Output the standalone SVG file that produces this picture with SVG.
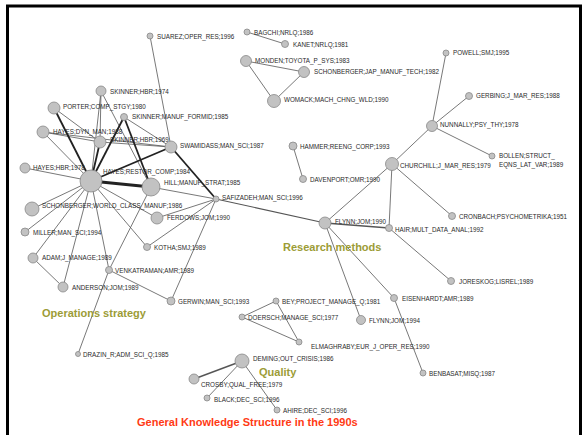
<svg xmlns="http://www.w3.org/2000/svg" width="587" height="435" viewBox="0 0 587 435">
<style>
.n{fill:#c2c2c2;stroke:#888;stroke-width:0.8}
.t{font-family:"Liberation Sans",Arial,sans-serif;font-size:6.3px;fill:#2a2a2a}
.e{stroke:#555;stroke-width:0.8;fill:none}
.k{stroke:#222;stroke-width:1.8;fill:none}
.kk{stroke:#222;stroke-width:3;fill:none}
.g{font-family:"Liberation Sans",Arial,sans-serif;font-size:11px;font-weight:bold;fill:#9c9c36}
.r{font-family:"Liberation Sans",Arial,sans-serif;font-size:11px;font-weight:bold;fill:#ff3a14}
</style>
<rect width="587" height="435" fill="#fff"/>
<path d="M7.5 435V6H580.5V435" fill="none" stroke="#000" stroke-width="3"/>
<g id="connectors">
<line class="e" x1="150" y1="36" x2="171" y2="147"/>
<line class="e" x1="247" y1="32" x2="285" y2="44"/>
<line class="e" x1="246" y1="61" x2="304" y2="72"/>
<line class="e" x1="246" y1="61" x2="274" y2="101"/>
<line class="e" x1="304" y1="72" x2="274" y2="101"/>
<line class="e" x1="446" y1="53" x2="432" y2="126"/>
<line class="e" x1="469" y1="96" x2="432" y2="126"/>
<line class="e" x1="432" y1="126" x2="392" y2="164"/>
<line class="e" x1="432" y1="126" x2="492" y2="156"/>
<line class="e" x1="392" y1="164" x2="325" y2="223"/>
<line class="e" x1="392" y1="164" x2="389" y2="228"/>
<line class="e" x1="392" y1="164" x2="452" y2="216"/>
<line class="e" x1="389" y1="228" x2="451" y2="281"/>
<line class="e" x1="325" y1="223" x2="389" y2="228" style="stroke-width:1.3"/>
<line class="e" x1="325" y1="223" x2="216" y2="199" style="stroke-width:1.1"/>
<line class="e" x1="325" y1="223" x2="394" y2="298"/>
<line class="e" x1="325" y1="223" x2="361" y2="320"/>
<line class="e" x1="394" y1="298" x2="423" y2="373"/>
<line class="e" x1="293" y1="146" x2="303" y2="179"/>
<line class="e" x1="101" y1="91" x2="91" y2="181"/>
<line class="e" x1="101" y1="91" x2="100" y2="142"/>
<line class="e" x1="101" y1="91" x2="151" y2="187"/>
<line class="e" x1="54" y1="108" x2="100" y2="142"/>
<line class="e" x1="43" y1="132" x2="91" y2="181"/>
<line class="e" x1="43" y1="132" x2="100" y2="142"/>
<line class="e" x1="43" y1="132" x2="171" y2="147"/>
<line class="e" x1="100" y1="142" x2="171" y2="147"/>
<line class="e" x1="124" y1="117" x2="171" y2="147"/>
<line class="e" x1="25" y1="168" x2="91" y2="181"/>
<line class="e" x1="32" y1="209" x2="91" y2="181"/>
<line class="e" x1="25" y1="232" x2="91" y2="181"/>
<line class="e" x1="33" y1="258" x2="91" y2="181"/>
<line class="e" x1="63" y1="287" x2="91" y2="181"/>
<line class="e" x1="109" y1="270" x2="91" y2="181"/>
<line class="e" x1="147" y1="247" x2="91" y2="181"/>
<line class="e" x1="157" y1="218" x2="91" y2="181"/>
<line class="e" x1="33" y1="258" x2="63" y2="287"/>
<line class="e" x1="109" y1="270" x2="151" y2="187"/>
<line class="e" x1="109" y1="270" x2="171" y2="301"/>
<line class="e" x1="109" y1="270" x2="78" y2="354"/>
<line class="e" x1="151" y1="187" x2="216" y2="199"/>
<line class="e" x1="157" y1="218" x2="216" y2="199"/>
<line class="e" x1="147" y1="247" x2="216" y2="199"/>
<line class="e" x1="171" y1="301" x2="216" y2="199"/>
<line class="k" x1="54" y1="108" x2="91" y2="181"/>
<line class="k" x1="124" y1="117" x2="91" y2="181"/>
<line class="k" x1="124" y1="117" x2="151" y2="187"/>
<line class="k" x1="100" y1="142" x2="91" y2="181"/>
<line class="k" x1="171" y1="147" x2="91" y2="181"/>
<line class="k" x1="171" y1="147" x2="216" y2="199"/>
<line class="kk" x1="91" y1="181" x2="151" y2="187"/>
<line class="e" x1="276" y1="301" x2="242" y2="317"/>
<line class="e" x1="276" y1="301" x2="299" y2="342"/>
<line class="e" x1="242" y1="317" x2="299" y2="342"/>
<line class="e" x1="242" y1="361" x2="194" y2="379" style="stroke-width:1.4"/>
<line class="e" x1="242" y1="361" x2="207" y2="398"/>
<line class="e" x1="242" y1="361" x2="277" y2="410"/>
</g>
<g id="n-suarez"><circle class="n" cx="150" cy="36" r="3"/><text class="t" x="157" y="38.5">SUAREZ;OPER_RES;1996</text></g>
<g id="n-bagchi"><circle class="n" cx="247" cy="32" r="3"/><text class="t" x="254" y="34.5">BAGCHI;NRLQ;1986</text></g>
<g id="n-kanet"><circle class="n" cx="285" cy="44" r="3.5"/><text class="t" x="293" y="46.5">KANET;NRLQ;1981</text></g>
<g id="n-monden"><circle class="n" cx="246" cy="61" r="5.5"/><text class="t" x="255" y="62.5">MONDEN;TOYOTA_P_SYS;1983</text></g>
<g id="n-schonjap"><circle class="n" cx="304" cy="72" r="5.5"/><text class="t" x="314" y="73.5">SCHONBERGER;JAP_MANUF_TECH;1982</text></g>
<g id="n-womack"><circle class="n" cx="274" cy="101" r="6.5"/><text class="t" x="284" y="101.5">WOMACK;MACH_CHNG_WLD;1990</text></g>
<g id="n-powell"><circle class="n" cx="446" cy="53" r="3"/><text class="t" x="453" y="54.5">POWELL;SMJ;1995</text></g>
<g id="n-gerbing"><circle class="n" cx="469" cy="96" r="3.5"/><text class="t" x="476" y="97.5">GERBING;J_MAR_RES;1988</text></g>
<g id="n-nunnally"><circle class="n" cx="432" cy="126" r="5.5"/><text class="t" x="440" y="126.5">NUNNALLY;PSY_THY;1978</text></g>
<g id="n-churchill"><circle class="n" cx="392" cy="164" r="6.5"/><text class="t" x="400" y="167.5">CHURCHILL;J_MAR_RES;1979</text></g>
<g id="n-bollen"><circle class="n" cx="492" cy="156" r="3"/><text class="t" x="499" y="157.5">BOLLEN;STRUCT_</text><text class="t" x="499" y="166.5">EQNS_LAT_VAR;1989</text></g>
<g id="n-cronbach"><circle class="n" cx="452" cy="216" r="3.5"/><text class="t" x="459" y="218.5">CRONBACH;PSYCHOMETRIKA;1951</text></g>
<g id="n-hair"><circle class="n" cx="389" cy="228" r="3.5"/><text class="t" x="395" y="231.5">HAIR;MULT_DATA_ANAL;1992</text></g>
<g id="n-joreskog"><circle class="n" cx="451" cy="281" r="3.5"/><text class="t" x="459" y="283.5">JORESKOG;LISREL;1989</text></g>
<g id="n-flynn90"><circle class="n" cx="325" cy="223" r="6"/><text class="t" x="335" y="223.5">FLYNN;JOM;1990</text></g>
<g id="n-hammer"><circle class="n" cx="293" cy="146" r="4"/><text class="t" x="300" y="148.5">HAMMER;REENG_CORP;1993</text></g>
<g id="n-davenport"><circle class="n" cx="303" cy="179" r="3.5"/><text class="t" x="310" y="181.5">DAVENPORT;OMR;1990</text></g>
<g id="n-safizadeh"><circle class="n" cx="216" cy="199" r="3"/><text class="t" x="222" y="199.5">SAFIZADEH;MAN_SCI;1996</text></g>
<g id="n-skinner74"><circle class="n" cx="101" cy="91" r="5"/><text class="t" x="110" y="93.5">SKINNER;HBR;1974</text></g>
<g id="n-porter"><circle class="n" cx="54" cy="108" r="6"/><text class="t" x="63" y="108.5">PORTER;COMP_STGY;1980</text></g>
<g id="n-skinnerformid"><circle class="n" cx="124" cy="117" r="3.5"/><text class="t" x="132" y="118.5">SKINNER;MANUF_FORMID;1985</text></g>
<g id="n-hayesdyn"><circle class="n" cx="43" cy="132" r="6"/><text class="t" x="53" y="133.5">HAYES;DYN_MAN;1988</text></g>
<g id="n-skinner69"><circle class="n" cx="100" cy="142" r="6"/><text class="t" x="110" y="141.5">SKINNER;HBR;1969</text></g>
<g id="n-swamidass"><circle class="n" cx="171" cy="147" r="6"/><text class="t" x="180" y="148">SWAMIDASS;MAN_SCI;1987</text></g>
<g id="n-hayeshbr"><circle class="n" cx="25" cy="168" r="5"/><text class="t" x="33" y="169.5">HAYES;HBR;1978</text></g>
<g id="n-hayesrestor"><circle class="n" cx="91" cy="181" r="11"/><text class="t" x="103" y="173.5">HAYES;RESTOR_COMP;1984</text></g>
<g id="n-hill"><circle class="n" cx="151" cy="187" r="9"/><text class="t" x="164" y="184.5">HILL;MANUF_STRAT;1985</text></g>
<g id="n-schonworld"><circle class="n" cx="32" cy="209" r="7"/><text class="t" x="42" y="207.5">SCHONBERGER;WORLD_CLASS_MANUF;1986</text></g>
<g id="n-ferdows"><circle class="n" cx="157" cy="218" r="6"/><text class="t" x="167" y="219.5">FERDOWS;JOM;1990</text></g>
<g id="n-miller"><circle class="n" cx="25" cy="232" r="4"/><text class="t" x="33" y="234.5">MILLER;MAN_SCI;1994</text></g>
<g id="n-kotha"><circle class="n" cx="147" cy="247" r="3.5"/><text class="t" x="154" y="249.5">KOTHA;SMJ;1989</text></g>
<g id="n-adam"><circle class="n" cx="33" cy="258" r="5"/><text class="t" x="42" y="259.5">ADAM;J_MANAGE;1989</text></g>
<g id="n-venkatraman"><circle class="n" cx="109" cy="270" r="3.5"/><text class="t" x="115" y="272.5">VENKATRAMAN;AMR;1989</text></g>
<g id="n-anderson"><circle class="n" cx="63" cy="287" r="5"/><text class="t" x="72" y="289.5">ANDERSON;JOM;1989</text></g>
<g id="n-gerwin"><circle class="n" cx="171" cy="301" r="4"/><text class="t" x="178" y="303.5">GERWIN;MAN_SCI;1993</text></g>
<g id="n-drazin"><circle class="n" cx="78" cy="354" r="2.5"/><text class="t" x="83" y="357">DRAZIN_R;ADM_SCI_Q;1985</text></g>
<g id="n-bey"><circle class="n" cx="276" cy="301" r="3"/><text class="t" x="282" y="303.5">BEY;PROJECT_MANAGE_Q;1981</text></g>
<g id="n-doersch"><circle class="n" cx="242" cy="317" r="3"/><text class="t" x="248" y="319.5">DOERSCH;MANAGE_SCI;1977</text></g>
<g id="n-elmaghraby"><circle class="n" cx="299" cy="342" r="3"/><text class="t" x="311" y="348.5">ELMAGHRABY;EUR_J_OPER_RES;1990</text></g>
<g id="n-flynn94"><circle class="n" cx="361" cy="320" r="4.5"/><text class="t" x="369" y="322.5">FLYNN;JOM;1994</text></g>
<g id="n-deming"><circle class="n" cx="242" cy="361" r="7"/><text class="t" x="253" y="360.5">DEMING;OUT_CRISIS;1986</text></g>
<g id="n-crosby"><circle class="n" cx="194" cy="379" r="5"/><text class="t" x="201" y="386.5">CROSBY;QUAL_FREE;1979</text></g>
<g id="n-black"><circle class="n" cx="207" cy="398" r="3"/><text class="t" x="214" y="401.5">BLACK;DEC_SCI;1996</text></g>
<g id="n-ahire"><circle class="n" cx="277" cy="410" r="3"/><text class="t" x="283" y="412.5">AHIRE;DEC_SCI;1996</text></g>
<g id="n-eisenhardt"><circle class="n" cx="394" cy="298" r="3.5"/><text class="t" x="402" y="300.5">EISENHARDT;AMR;1989</text></g>
<g id="n-benbasat"><circle class="n" cx="423" cy="373" r="3"/><text class="t" x="429" y="375.5">BENBASAT;MISQ;1987</text></g>
<text class="g" x="283" y="251">Research methods</text>
<text class="g" x="42" y="317">Operations strategy</text>
<text class="g" x="259" y="376">Quality</text>
<text class="r" x="137" y="426">General Knowledge Structure in the 1990s</text>
</svg>
